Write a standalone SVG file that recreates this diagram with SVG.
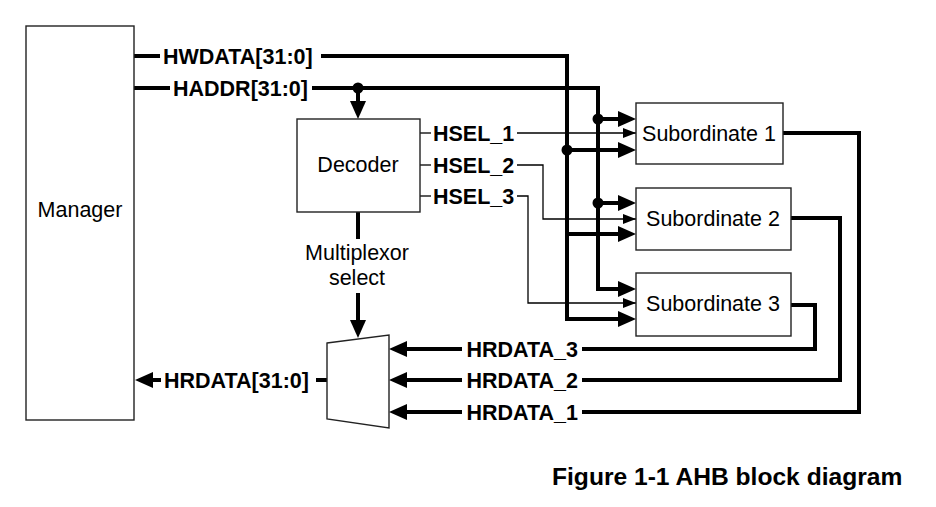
<svg xmlns="http://www.w3.org/2000/svg" width="936" height="507" viewBox="0 0 936 507">
<style>
.box{fill:#fff;stroke:#222;stroke-width:1.4}
.t{font-family:"Liberation Sans",Arial,sans-serif;font-size:21.5px;fill:#000}
.b{font-weight:bold}
.thick{fill:none;stroke:#000;stroke-width:4}
.thin{fill:none;stroke:#000;stroke-width:1.3}
.dot{fill:#000}
</style>
<defs>
<marker id="ah" markerUnits="userSpaceOnUse" markerWidth="18" markerHeight="16" refX="10" refY="8" orient="auto">
<path d="M0,0 L18,8 L0,16 z" fill="#000"/>
</marker>
<marker id="ahs" markerUnits="userSpaceOnUse" markerWidth="13" markerHeight="10" refX="13" refY="5" orient="auto">
<path d="M0,0 L13,5 L0,10 z" fill="#000"/>
</marker>
</defs>
<rect width="936" height="507" fill="#fff"/>

<g id="connectors">
<!-- HWDATA -->
<path class="thick" d="M134,56 H160"/>
<path class="thick" d="M321,56 H567 V319 H628" marker-end="url(#ah)"/>
<path class="thick" d="M567,150 H628" marker-end="url(#ah)"/>
<path class="thick" d="M567,234 H628" marker-end="url(#ah)"/>
<circle class="dot" cx="567" cy="150" r="5.5"/>
<!-- HADDR -->
<path class="thick" d="M134,88 H170"/>
<path class="thick" d="M312,88 H598 V289 H628" marker-end="url(#ah)"/>
<path class="thick" d="M598,119 H628" marker-end="url(#ah)"/>
<path class="thick" d="M598,203 H628" marker-end="url(#ah)"/>
<path class="thick" d="M358,88 V111" marker-end="url(#ah)"/>
<circle class="dot" cx="598" cy="119" r="5.5"/>
<circle class="dot" cx="598" cy="203" r="5.5"/>
<circle class="dot" cx="358" cy="88" r="5.5"/>
<!-- HSEL -->
<path class="thin" d="M420,133 H431"/>
<path class="thin" d="M517,133 H636" marker-end="url(#ahs)"/>
<path class="thin" d="M420,165 H431"/>
<path class="thin" d="M517,165 H543 V219 H636" marker-end="url(#ahs)"/>
<path class="thin" d="M420,196 H431"/>
<path class="thin" d="M517,196 H528 V303 H636" marker-end="url(#ahs)"/>
<!-- Multiplexor select -->
<path class="thick" d="M358,212 V239"/>
<path class="thick" d="M358,293 V330" marker-end="url(#ah)"/>
<!-- HRDATA returns -->
<path class="thick" d="M783,133 H859 V412 H582"/>
<path class="thick" d="M791,218 H840 V380 H582"/>
<path class="thick" d="M791,305 H815 V349 H582"/>
<path class="thick" d="M462,349 H397" marker-end="url(#ah)"/>
<path class="thick" d="M462,380 H397" marker-end="url(#ah)"/>
<path class="thick" d="M462,412 H397" marker-end="url(#ah)"/>
<!-- HRDATA[31:0] -->
<path class="thick" d="M327,380 H316"/>
<path class="thick" d="M161,380 H143" marker-end="url(#ah)"/>
</g>

<g id="manager">
<rect class="box" x="26" y="26" width="108" height="394"/>
<text class="t" x="80" y="217" text-anchor="middle">Manager</text>
</g>
<g id="decoder">
<rect class="box" x="297" y="119" width="123" height="93"/>
<text class="t" x="358" y="172" text-anchor="middle">Decoder</text>
</g>
<g id="sub1">
<rect class="box" x="636" y="103" width="147" height="61"/>
<text class="t" x="709" y="141" text-anchor="middle">Subordinate 1</text>
</g>
<g id="sub2">
<rect class="box" x="636" y="188" width="155" height="62"/>
<text class="t" x="713" y="226" text-anchor="middle">Subordinate 2</text>
</g>
<g id="sub3">
<rect class="box" x="636" y="273" width="155" height="63"/>
<text class="t" x="713" y="311" text-anchor="middle">Subordinate 3</text>
</g>
<g id="mux">
<polygon class="box" points="327,343 389,335 389,428 327,419"/>
</g>

<g id="labels">
<text class="t b" x="163" y="63.5">HWDATA[31:0]</text>
<text class="t b" x="173" y="95.5">HADDR[31:0]</text>
<text class="t b" x="433" y="140.5">HSEL_1</text>
<text class="t b" x="433" y="172.5">HSEL_2</text>
<text class="t b" x="433" y="203.5">HSEL_3</text>
<text class="t" x="357" y="260" text-anchor="middle">Multiplexor</text>
<text class="t" x="357" y="285" text-anchor="middle">select</text>
<text class="t b" x="578" y="356.5" text-anchor="end">HRDATA_3</text>
<text class="t b" x="578" y="387.5" text-anchor="end">HRDATA_2</text>
<text class="t b" x="578" y="419.5" text-anchor="end">HRDATA_1</text>
<text class="t b" x="164" y="387.5">HRDATA[31:0]</text>
<text class="t b" x="552" y="485" style="font-size:24.6px">Figure 1-1 AHB block diagram</text>
</g>
</svg>
